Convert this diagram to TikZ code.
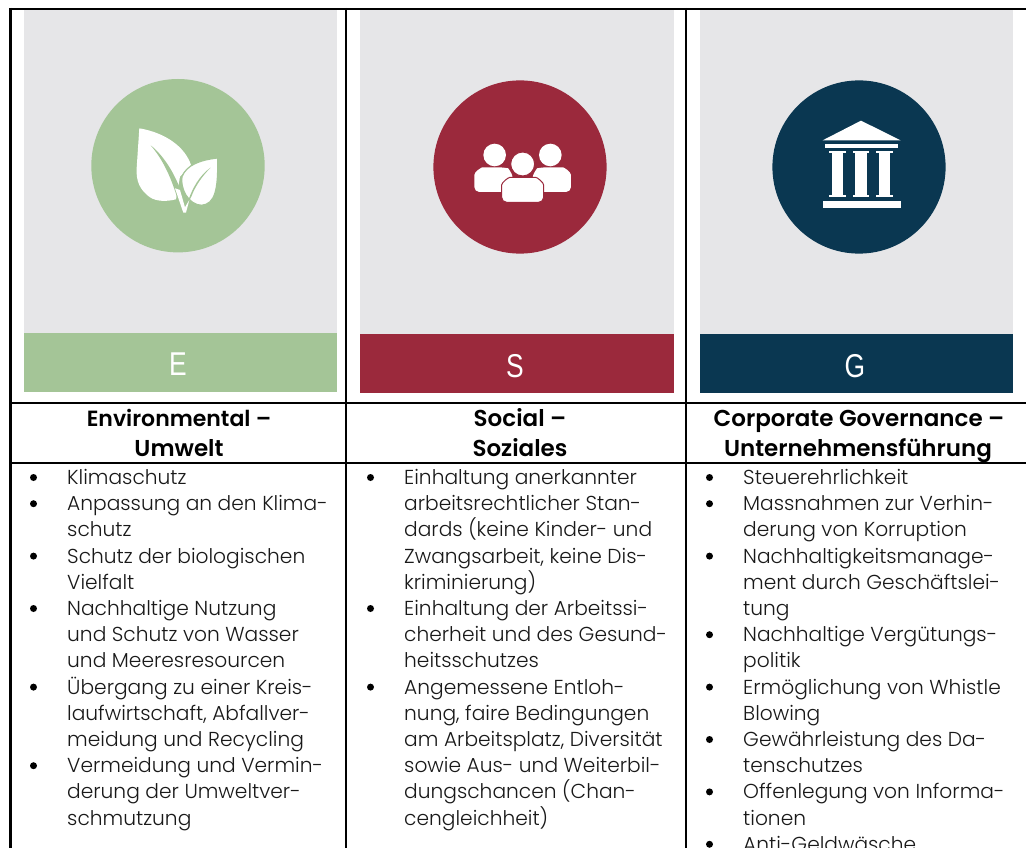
\documentclass[tikz,border=0pt]{standalone}
\usepackage{fontspec}
\setmainfont[BoldFont={Poppins SemiBold}]{Poppins Light}
\newfontfamily\letterfont{Liberation Sans}
\definecolor{panelgrey}{HTML}{E6E6E8}
\definecolor{egreen}{HTML}{A4C597}
\definecolor{sred}{HTML}{9B293C}
\definecolor{gblue}{HTML}{0A3751}
\tikzset{x=1pt,y=-1pt,
 rule/.style={line width=2.3pt,black},
 panel/.style={fill=panelgrey,draw=none},
 head/.style={font=\fontsize{23}{23}\selectfont\bfseries,anchor=base,inner sep=0pt},
 item/.style={font=\fontsize{20.2}{20.2}\selectfont,anchor=base west,inner sep=0pt,text=black!90},
 letter/.style={font=\letterfont\fontsize{33}{33}\selectfont,text=white,anchor=base,inner sep=0pt,xscale=0.8,transform shape},
 bulletdot/.style={circle,fill=black,draw=none,inner sep=0pt,minimum size=7pt}}
\newcommand{\itm}[4]{% x, line index, has bullet, text
 \node[item] (t#1l#2) at (#1,{484.5+#2*26.2}) {#4};
 \ifnum#3=1 \node[bulletdot] (b#1l#2) at (#1-33.5,{477.5+#2*26.2}) {};\fi}
\begin{document}
\begin{tikzpicture}
\useasboundingbox (0,0) rectangle (1026,848);
\fill[white] (0,0) rectangle (1026,848);
% panels
\fill[panel] (24,10) rectangle (337,333);
\fill[panel] (360,10) rectangle (674,334);
\fill[panel] (700,10) rectangle (1013,334);
\fill[egreen] (24,333) rectangle (337,391.7);
\fill[sred] (360,334) rectangle (674,393);
\fill[gblue] (700,334) rectangle (1013,393);
\fill[egreen] (178,165.7) circle (86.7);
\fill[sred] (520,167) circle (86.6);
\fill[gblue] (859,167) circle (86.6);
% leaf icon
\begin{scope}[x=0.3333pt,y=-0.3333pt]
 \fill[white] (418,385) .. controls (495,398) and (555,440) .. (573,495) -- (540,530) -- (528,598)
   .. controls (500,605) and (470,605) .. (450,592) .. controls (420,570) and (408,545) .. (410,505) -- cycle;
 \draw[egreen,line width=1.2pt,fill=white] (653,474) .. controls (600,480) and (560,495) .. (546,530)
   .. controls (540,565) and (565,615) .. (605,616) .. controls (645,612) and (655,570) .. (653,474) -- cycle;
 \fill[egreen] (452,436) .. controls (490,480) and (515,535) .. (535,605) -- (548,590) .. controls (530,530) and (495,470) .. (452,436) -- cycle;
 \fill[egreen] (632,503) .. controls (600,525) and (575,565) .. (562,612) -- (574,590) .. controls (585,560) and (605,530) .. (632,503) -- cycle;
 \fill[white] (525,565) -- (550,638) -- (558,638) -- (568,600) -- (555,622) -- (540,570) -- cycle;
\end{scope}
% people icon
\begin{scope}[shift={(340,80)},x=0.3333pt,y=-0.3333pt]
 \fill[white] (464,225) circle[radius=11.3pt];
 \fill[white] (631,225) circle[radius=11.3pt];
 \fill[white,rounded corners=5pt] (403,336) -- (403,300) .. controls (403,275) and (425,262) .. (442,262) -- (490,262) .. controls (505,265) and (515,280) .. (520,300) -- (520,336) -- cycle;
 \fill[white,rounded corners=5pt] (693,336) -- (693,300) .. controls (693,275) and (671,262) .. (654,262) -- (606,262) .. controls (591,265) and (581,280) .. (576,300) -- (576,336) -- cycle;
 \draw[sred,line width=1pt,fill=white] (548,252) circle[radius=12pt];
 \draw[sred,line width=1pt,fill=white,rounded corners=5pt] (485,367) -- (485,330) .. controls (485,308) and (505,292) .. (525,292) -- (572,292) .. controls (592,292) and (611,308) .. (611,330) -- (611,367) -- cycle;
\end{scope}
% temple icon
\begin{scope}[shift={(690,80)},x=0.3333pt,y=-0.3333pt]
 \fill[white] (513,122) -- (632,181) -- (398,181) -- cycle;
 \fill[white] (404,191) rectangle (624,205);
 \foreach \cx in {442,513,583}{
  \fill[white] (\cx-25,212) rectangle (\cx+25,219);
  \fill[white] (\cx-17,219) rectangle (\cx+17,344);
  \fill[white] (\cx-25,344) rectangle (\cx+25,352);
 }
 \fill[white] (398,362) rectangle (632,385);
\end{scope}
% letters
\node[letter] (e) at (178,375) {E};
\node[letter] (s) at (515,377) {S};
\node[letter] (g) at (855,377) {G};
% rules
\draw[rule] (9,9) -- (1026,9);
\draw[rule] (9,402.7) -- (1026,402.7);
\draw[rule,line width=2pt] (9,462.5) -- (1026,462.5);
\draw[rule] (10.5,8) -- (10.5,848);
\draw[rule] (346,8) -- (346,848);
\draw[rule] (686,8) -- (686,848);
% headers
\node[head,font=\fontsize{22}{22}\selectfont\bfseries] (h1a) at (179,426.7) {Environmental –};
\node[head] (h1b) at (179,456.5) {Umwelt};
\node[head] (h2a) at (520,426.7) {Social –};
\node[head] (h2b) at (520,456.5) {Soziales};
\node[head] (h3a) at (859,426.7) {Corporate Governance –};
\node[head] (h3b) at (858,456.5) {Unternehmensführung};
% column 1
\itm{67}{0}{1}{Klimaschutz}
\itm{67}{1}{1}{Anpassung an den Klima-}
\itm{67}{2}{0}{schutz}
\itm{67}{3}{1}{Schutz der biologischen}
\itm{67}{4}{0}{Vielfalt}
\itm{67}{5}{1}{Nachhaltige Nutzung}
\itm{67}{6}{0}{und Schutz von Wasser}
\itm{67}{7}{0}{und Meeresresourcen}
\itm{67}{8}{1}{Übergang zu einer Kreis-}
\itm{67}{9}{0}{laufwirtschaft, Abfallver-}
\itm{67}{10}{0}{meidung und Recycling}
\itm{67}{11}{1}{Vermeidung und Vermin-}
\itm{67}{12}{0}{derung der Umweltver-}
\itm{67}{13}{0}{schmutzung}
% column 2
\itm{404}{0}{1}{Einhaltung anerkannter}
\itm{404}{1}{0}{arbeitsrechtlicher Stan-}
\itm{404}{2}{0}{dards (keine Kinder- und}
\itm{404}{3}{0}{Zwangsarbeit, keine Dis-}
\itm{404}{4}{0}{kriminierung)}
\itm{404}{5}{1}{Einhaltung der Arbeitssi-}
\itm{404}{6}{0}{cherheit und des Gesund-}
\itm{404}{7}{0}{heitsschutzes}
\itm{404}{8}{1}{Angemessene Entloh-}
\itm{404}{9}{0}{nung, faire Bedingungen}
\itm{404}{10}{0}{am Arbeitsplatz, Diversität}
\itm{404}{11}{0}{sowie Aus- und Weiterbil-}
\itm{404}{12}{0}{dungschancen (Chan-}
\itm{404}{13}{0}{cengleichheit)}
% column 3
\itm{743}{0}{1}{Steuerehrlichkeit}
\itm{743}{1}{1}{Massnahmen zur Verhin-}
\itm{743}{2}{0}{derung von Korruption}
\itm{743}{3}{1}{Nachhaltigkeitsmanage-}
\itm{743}{4}{0}{ment durch Geschäftslei-}
\itm{743}{5}{0}{tung}
\itm{743}{6}{1}{Nachhaltige Vergütungs-}
\itm{743}{7}{0}{politik}
\itm{743}{8}{1}{Ermöglichung von Whistle}
\itm{743}{9}{0}{Blowing}
\itm{743}{10}{1}{Gewährleistung des Da-}
\itm{743}{11}{0}{tenschutzes}
\itm{743}{12}{1}{Offenlegung von Informa-}
\itm{743}{13}{0}{tionen}
\itm{743}{14}{1}{Anti-Geldwäsche}
\end{tikzpicture}
\end{document}
